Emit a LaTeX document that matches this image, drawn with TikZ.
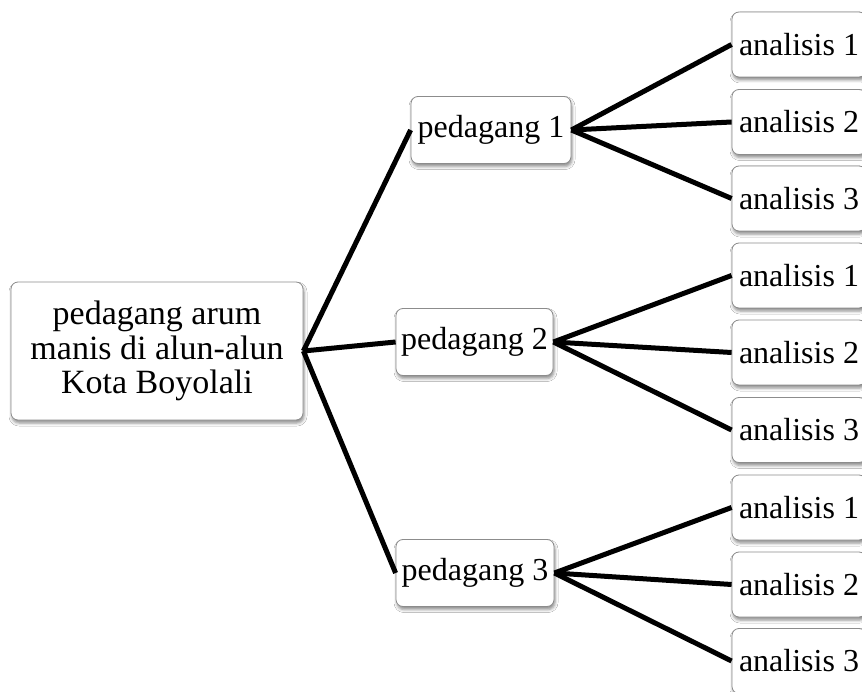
\documentclass[tikz,border=0pt]{standalone}
\usepackage{fontspec}
\setmainfont{Liberation Serif}
\usetikzlibrary{shadows.blur}
\begin{document}
\begin{tikzpicture}[x=1pt,y=-1pt,
  box/.style={draw=black!45, line width=0.8pt, rounded corners=7pt, fill=white,
    blur shadow={shadow xshift=1pt, shadow yshift=-3pt, shadow blur radius=3pt, shadow opacity=45},
    inner sep=0pt, font=\fontsize{32}{35}\selectfont, align=center},
  pbox/.style={box, minimum width=158pt, minimum height=67pt},
  abox/.style={box, minimum width=134pt, minimum height=65pt},
  link/.style={line width=5pt, black}]
\useasboundingbox (0,0) rectangle (862,692);
\clip (0,0) rectangle (862,692);
\fill[white] (0,0) rectangle (862,692);

\node[box, minimum width=292pt, minimum height=138pt, font=\fontsize{34}{34.5}\selectfont] (root) at (157,351)
  {pedagang arum\\manis di alun-alun\\Kota Boyolali};

\node[pbox, minimum width=160pt] (p1) at (491,130) {pedagang 1};
\node[pbox, minimum width=157pt] (p2) at (474.5,342) {pedagang 2};
\node[pbox] (p3) at (475,573) {pedagang 3};

\node[abox] (a11) at (799,44.5) {analisis 1};
\node[abox] (a12) at (799,122) {analisis 2};
\node[abox] (a13) at (799,198.5) {analisis 3};
\node[abox] (a21) at (799,275.5) {analisis 1};
\node[abox] (a22) at (799,352.5) {analisis 2};
\node[abox] (a23) at (799,430) {analisis 3};
\node[abox] (a31) at (799,507.5) {analisis 1};
\node[abox] (a32) at (799,584.5) {analisis 2};
\node[abox] (a33) at (799,661) {analisis 3};

\draw[link] (root.east) -- (p1.west);
\draw[link] (root.east) -- (p2.west);
\draw[link] (root.east) -- (p3.west);
\foreach \p in {1,2,3}{
  \foreach \a in {1,2,3}{
    \draw[link] (p\p.east) -- (a\p\a.west);
  }
}
\end{tikzpicture}
\end{document}
